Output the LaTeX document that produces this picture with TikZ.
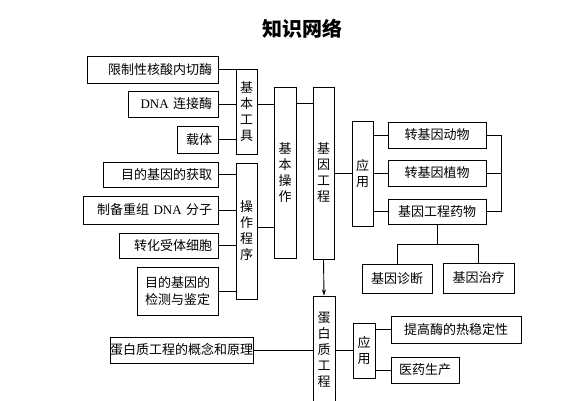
\documentclass[tikz,border=0pt]{standalone}
\usepackage{fontspec}
\setmainfont{Noto Sans CJK SC}
\newfontfamily\lat{Liberation Serif}
\usetikzlibrary{arrows.meta}
\begin{document}
\begin{tikzpicture}[x=1pt,y=-1pt,
  box/.style={draw,line width=0.9pt,inner sep=0pt,align=center,font=\fontsize{13}{16}\selectfont},
  lbox/.style={box,inner xsep=0pt,align=right},
  conn/.style={line width=0.9pt},
  every node/.append style={text=black}]
\useasboundingbox (0,0) rectangle (567,400);
\node[font=\fontsize{20}{24}\selectfont\bfseries] (title) at (302,29) {知识网络};
% tools
\node[lbox,text width=131,minimum height=27] (t1) at (152.5,69.5) {限制性核酸内切酶\hspace*{6pt}};
\node[lbox,text width=90,minimum height=26] (t2) at (173,104) {{\lat DNA} 连接酶\hspace*{6pt}};
\node[lbox,text width=41,minimum height=27] (t3) at (197.5,139.5) {载体\hspace*{6pt}};
\node[box,minimum width=21,minimum height=85] (gj) at (246.5,111.5) {基\\本\\工\\具};
% procedure
\node[lbox,text width=115,minimum height=25] (p1) at (160.5,174.5) {目的基因的获取\hspace*{6pt}};
\node[lbox,text width=135,minimum height=28] (p2) at (150.5,210) {制备重组 {\lat DNA} 分子\hspace*{6pt}};
\node[lbox,text width=99,minimum height=25] (p3) at (168.5,245.5) {转化受体细胞\hspace*{6pt}};
\node[box,minimum width=81,minimum height=48,font=\fontsize{13}{17}\selectfont] (p4) at (177.5,291) {目的基因的\\检测与鉴定};
\node[box,minimum width=21,minimum height=136] (cx) at (246.5,231) {操\\作\\程\\序};
% middle
\node[box,minimum width=22,minimum height=171] (jbcz) at (285,172.5) {基\\本\\操\\作};
\node[box,minimum width=21,minimum height=172] (jygc) at (323.5,173) {基\\因\\工\\程};
\node[box,minimum width=21,minimum height=105] (yy1) at (362.5,173.5) {应\\用};
% applications
\node[box,minimum width=98,minimum height=26] (a1) at (437,135) {转基因动物};
\node[box,minimum width=98,minimum height=26] (a2) at (437,173) {转基因植物};
\node[box,minimum width=98,minimum height=25] (a3) at (437,211.5) {基因工程药物};
\node[box,minimum width=70,minimum height=29] (d1) at (397,278.5) {基因诊断};
\node[box,minimum width=71,minimum height=30] (d2) at (478.5,278) {基因治疗};
% protein engineering
\node[box,minimum width=22,minimum height=108] (dbz) at (324,350) {蛋\\白\\质\\工\\程};
\node[box,minimum width=22,minimum height=55] (yy2) at (364,350.5) {应\\用};
\node[box,minimum width=130,minimum height=27] (b1) at (456,329.5) {提高酶的热稳定性};
\node[box,minimum width=68,minimum height=26] (b2) at (425,370) {医药生产};
\node[box,minimum width=139,minimum height=26] (gn) at (181.5,350) {蛋白质工程的概念和原理};
% connectors
\foreach \n in {t1,t2,t3} \draw[conn] (\n.east) -- (\n.east -| gj.west);
\foreach \n in {p1,p2,p3,p4} \draw[conn] (\n.east) -- (\n.east -| cx.west);
\draw[conn] ([yshift=7.5pt]gj.east) -- ([yshift=7.5pt]gj.east -| jbcz.west);
\draw[conn] ([yshift=4pt]cx.east) -- ([yshift=4pt]cx.east -| jbcz.west);
\draw[conn] ([yshift=-17pt]jbcz.north east) -- ([yshift=-17pt]jbcz.north east -| jygc.west);
\draw[conn] (jygc.east) -- (jygc.east -| yy1.west);
\foreach \n in {a1,a2,a3} \draw[conn] (\n.west -| yy1.east) -- (\n.west);
\draw[conn] (a1.east) -- ++(15,0) coordinate (rb) |- (a3.east);
\draw[conn] (a2.east) -- (a2.east -| rb);
\draw[conn] (a3.south) -- ++(0,20) coordinate (br);
\draw[conn] (d1.north) -- (d1.north |- br) -- (d2.north |- br) -- (d2.north);
\draw[conn,-{Stealth[length=6pt,width=4pt]}] (jygc.south) -- (dbz.north);
\draw[conn] (gn.east) -- (gn.east -| dbz.west);
\draw[conn] (yy2.west -| dbz.east) -- (yy2.west);
\foreach \n in {b1,b2} \draw[conn] (\n.west -| yy2.east) -- (\n.west);
\end{tikzpicture}
\end{document}
